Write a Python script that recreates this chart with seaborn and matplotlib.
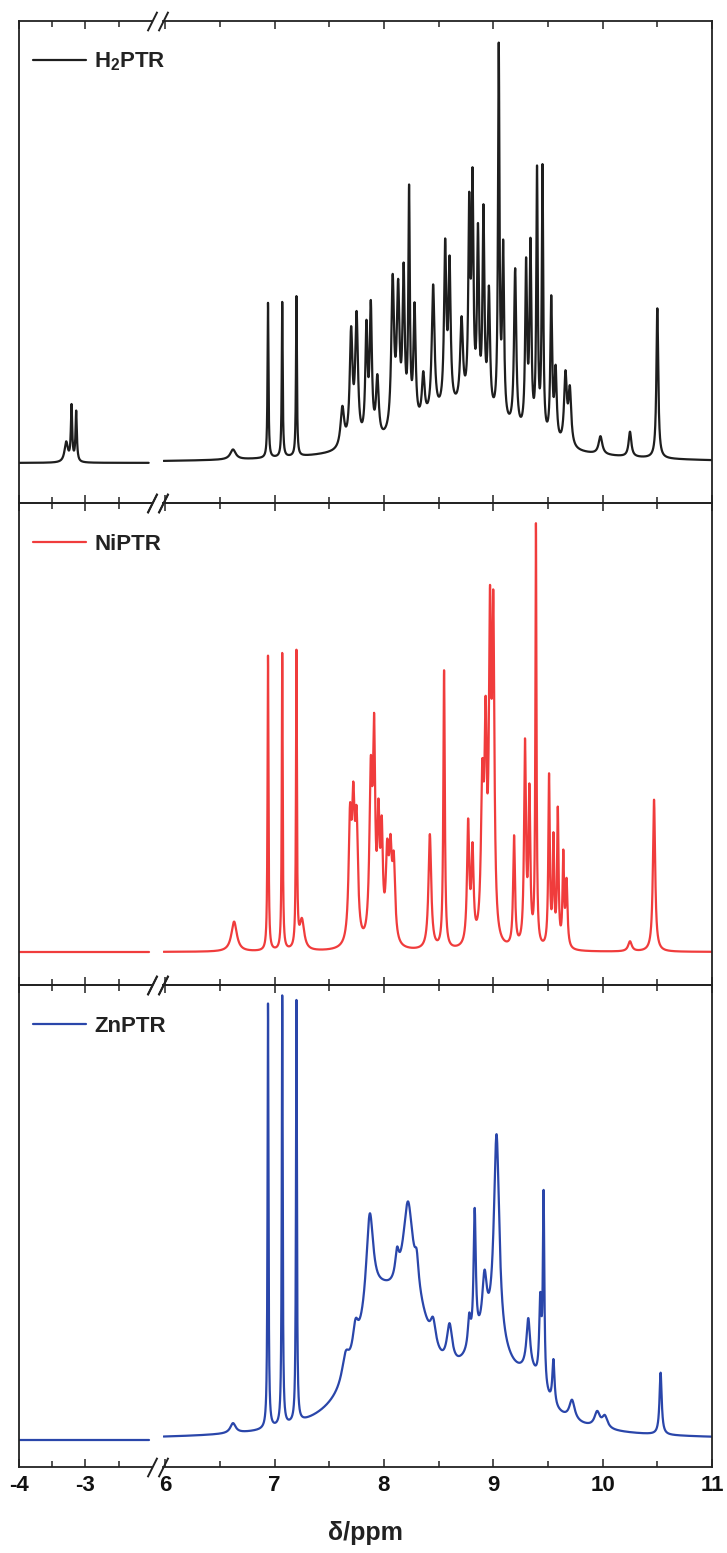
import numpy as np
import matplotlib
matplotlib.use("Agg")
import matplotlib.pyplot as plt
from matplotlib.ticker import FixedLocator, MultipleLocator
import seaborn as sns

sns.set_theme(style="white")
plt.rcParams["font.family"] = ["Liberation Sans", "DejaVu Sans"]
plt.rcParams["axes.unicode_minus"] = False
plt.rcParams["mathtext.fontset"] = "custom"
plt.rcParams["mathtext.rm"] = "Liberation Sans"
plt.rcParams["mathtext.bf"] = "Liberation Sans:bold"

labels = [r"H$_\mathbf{2}$PTR", "NiPTR", "ZnPTR"]
colors = ["#1e1e1e", "#f03c3c", "#2a46aa"]

# ---- peak tables: position (ppm), height, half-width (ppm)
h2_pos = [-3.29, -3.21, -3.14, 6.62, 6.94, 7.07, 7.20, 7.62, 7.70, 7.75, 7.84, 7.88, 7.94,
          8.08, 8.13, 8.18, 8.23, 8.28, 8.36, 8.45, 8.56, 8.60, 8.71, 8.78, 8.81, 8.86, 8.91,
          8.96, 9.05, 9.09, 9.20, 9.30, 9.34, 9.40, 9.45, 9.53, 9.57, 9.66, 9.70, 9.98, 10.25,
          10.50, 8.70]
h2_hgt = [20, 55, 50, 10, 155, 155, 160, 40, 110, 125, 110, 130, 60,
          150, 135, 150, 228, 115, 45, 130, 160, 140, 85, 190, 215, 170, 195,
          120, 368, 170, 160, 165, 185, 262, 268, 140, 70, 70, 55, 18, 25,
          150, 50]
h2_wid = [0.03, 0.012, 0.012, 0.03, 0.005, 0.005, 0.005, 0.02, 0.015, 0.015, 0.012, 0.012, 0.015,
          0.015, 0.015, 0.012, 0.008, 0.012, 0.015, 0.015, 0.012, 0.012, 0.015, 0.01, 0.01, 0.01, 0.01,
          0.012, 0.008, 0.01, 0.012, 0.01, 0.01, 0.008, 0.008, 0.01, 0.012, 0.015, 0.015, 0.02, 0.015,
          0.01, 0.55]

ni_pos = [6.63, 6.94, 7.07, 7.20, 7.25, 7.69, 7.72, 7.75, 7.88, 7.91, 7.95, 7.98, 8.03, 8.06,
          8.09, 8.42, 8.55, 8.77, 8.81, 8.90, 8.93, 8.97, 9.00, 9.19, 9.29, 9.33, 9.39, 9.51,
          9.55, 9.59, 9.64, 9.67, 10.25, 10.47]
ni_hgt = [30, 295, 297, 295, 30, 115, 122, 110, 160, 190, 110, 100, 80, 80,
          75, 115, 278, 120, 90, 150, 190, 300, 310, 110, 200, 150, 420, 170,
          105, 135, 90, 65, 10, 152]
ni_wid = [0.03, 0.005, 0.005, 0.005, 0.025, 0.015, 0.015, 0.015, 0.015, 0.012, 0.012, 0.012, 0.015, 0.015,
          0.015, 0.015, 0.008, 0.012, 0.012, 0.015, 0.012, 0.012, 0.012, 0.01, 0.01, 0.01, 0.006, 0.008,
          0.008, 0.008, 0.008, 0.01, 0.02, 0.012]

zn_pos = [6.62, 6.94, 7.07, 7.20, 7.65, 7.74, 7.87, 8.12, 8.22, 8.30, 8.45, 8.60, 8.78, 8.83,
          8.92, 9.03, 9.32, 9.43, 9.46, 9.55, 9.72, 9.95, 10.02, 10.53, 7.95, 8.25, 8.95, 9.35]
zn_hgt = [10, 425, 430, 422, 25, 28, 100, 25, 80, 25, 25, 40, 30, 130,
          55, 210, 50, 80, 190, 45, 20, 15, 12, 62, 105, 95, 80, 30]
zn_wid = [0.03, 0.005, 0.005, 0.005, 0.04, 0.03, 0.04, 0.02, 0.05, 0.02, 0.03, 0.03, 0.015, 0.012,
          0.025, 0.03, 0.02, 0.012, 0.008, 0.012, 0.03, 0.03, 0.03, 0.012, 0.25, 0.2, 0.3, 0.15]

tables = [(h2_pos, h2_hgt, h2_wid), (ni_pos, ni_hgt, ni_wid), (zn_pos, zn_hgt, zn_wid)]
ylims = [(-40, 442), (-33, 449), (-27, 455)]

x_left = np.linspace(-4.0, -2.05, 976)
x_right = np.linspace(5.985, 11.0, 5016)


def spectrum(x, pos, hgt, wid):
    p = np.asarray(pos, float)[:, None]
    h = np.asarray(hgt, float)[:, None]
    w = np.asarray(wid, float)[:, None]
    return (h / (1.0 + ((x[None, :] - p) / w) ** 2)).sum(axis=0)


fig = plt.figure(figsize=(7.27, 15.53), dpi=100, facecolor="white")
gs = fig.add_gridspec(3, 2, width_ratios=[133, 549],
                      left=19 / 727, right=712 / 727,
                      bottom=1 - 1467 / 1553, top=1 - 21 / 1553,
                      hspace=0, wspace=0.0323)

spine_c = "#222222"
for row in range(3):
    axL = fig.add_subplot(gs[row, 0])
    axR = fig.add_subplot(gs[row, 1])
    pos, hgt, wid = tables[row]
    yl = spectrum(x_left, pos, hgt, wid)
    yr = spectrum(x_right, pos, hgt, wid)
    sns.lineplot(x=x_left, y=yl, ax=axL, color=colors[row], lw=1.6,
                 estimator=None, label=labels[row])
    sns.lineplot(x=x_right, y=yr, ax=axR, color=colors[row], lw=1.6,
                 estimator=None, legend=False)
    axL.set_xlim(-4, -2)
    axR.set_xlim(5.98, 11)
    for ax in (axL, axR):
        ax.set_ylim(*ylims[row])
        ax.set_facecolor("none")
        ax.set_xlabel("")
        ax.set_ylabel("")
        ax.set_yticks([])
        for s in ax.spines.values():
            s.set_color(spine_c)
            s.set_linewidth(1.3)
        ax.tick_params(axis="x", which="both", direction="in", top=True, bottom=True,
                       color=spine_c, width=1.1, labelbottom=(row == 2),
                       labelsize=16, pad=6)
        ax.tick_params(axis="x", which="major", length=6)
        ax.tick_params(axis="x", which="minor", length=4)
    axL.xaxis.set_major_locator(FixedLocator([-4, -3]))
    axL.xaxis.set_minor_locator(FixedLocator([-3.5, -2.5]))
    axR.xaxis.set_major_locator(MultipleLocator(1))
    axR.xaxis.set_minor_locator(MultipleLocator(0.5))
    if row == 2:
        for ax in (axL, axR):
            for lab in ax.get_xticklabels():
                lab.set_fontweight("bold")
                lab.set_color("#111111")
    axL.spines["right"].set_visible(False)
    axR.spines["left"].set_visible(False)
    # break marks
    for ax, xp in ((axL, 1), (axR, 0)):
        for yp in (0, 1):
            ax.plot([xp], [yp], transform=ax.transAxes, marker=[(-0.5, -1), (0.5, 1)],
                    markersize=14, mec=spine_c, mew=1.4, ls="none", clip_on=False)
    leg = axL.legend(loc="center left", bbox_to_anchor=(14 / 133, 1 - 41 / 482),
                     frameon=False, prop=dict(weight="bold", size=16),
                     handlelength=2.4, handletextpad=0.35, borderpad=0, borderaxespad=0)
    for t in leg.get_texts():
        t.set_color("#222222")

fig.text(365 / 727, 1 - 1533 / 1553, "δ/ppm", ha="center", va="center",
         fontsize=18, fontweight="bold", color="#222222")

fig.savefig("out.png", dpi=100, facecolor="white")
